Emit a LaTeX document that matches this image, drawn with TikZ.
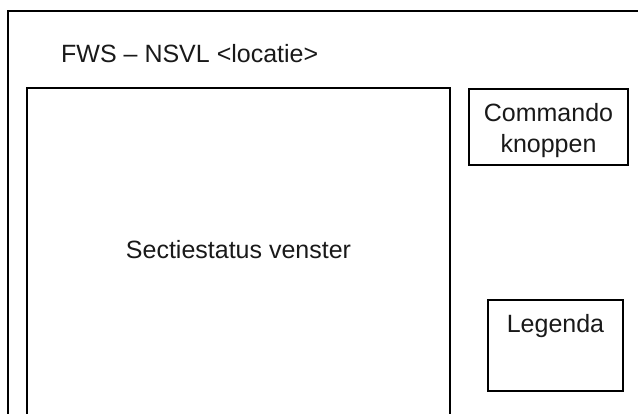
\documentclass[tikz,border=0pt]{standalone}
\usepackage{fontspec}
\setmainfont{Liberation Sans}
\begin{document}
\begin{tikzpicture}[x=1pt,y=-1pt,
  frame/.style={draw=black,line width=1.8pt,inner sep=0pt,fill=none},
  lbl/.style={font=\fontsize{25}{31}\selectfont,inner sep=0pt,text=black!90}]
\useasboundingbox (0,0) rectangle (638,414);
\clip (0,0) rectangle (638,414);
% window frame (runs off the right and bottom)
\node[frame,minimum width=642pt,minimum height=419pt] (window) at (329,220.5) {};
\node[lbl,anchor=base west] (title) at (61,63) {FWS – NSVL <locatie>};
% section status pane
\node[frame,minimum width=423pt,minimum height=342pt] (pane) at (238.5,259) {};
\node[lbl,anchor=base] (panelbl) at (238.5,259) {Sectiestatus venster};
% command buttons
\node[frame,minimum width=159pt,minimum height=76pt] (cmd) at (548.5,127) {};
\node[lbl,align=center,anchor=base] (cmdlbl) at (548.5,153) {Commando\\knoppen};
% legend
\node[frame,minimum width=135pt,minimum height=91pt] (legend) at (555.5,345.5) {};
\node[lbl,anchor=base] (legendlbl) at (555.5,333) {Legenda};
\end{tikzpicture}
\end{document}
